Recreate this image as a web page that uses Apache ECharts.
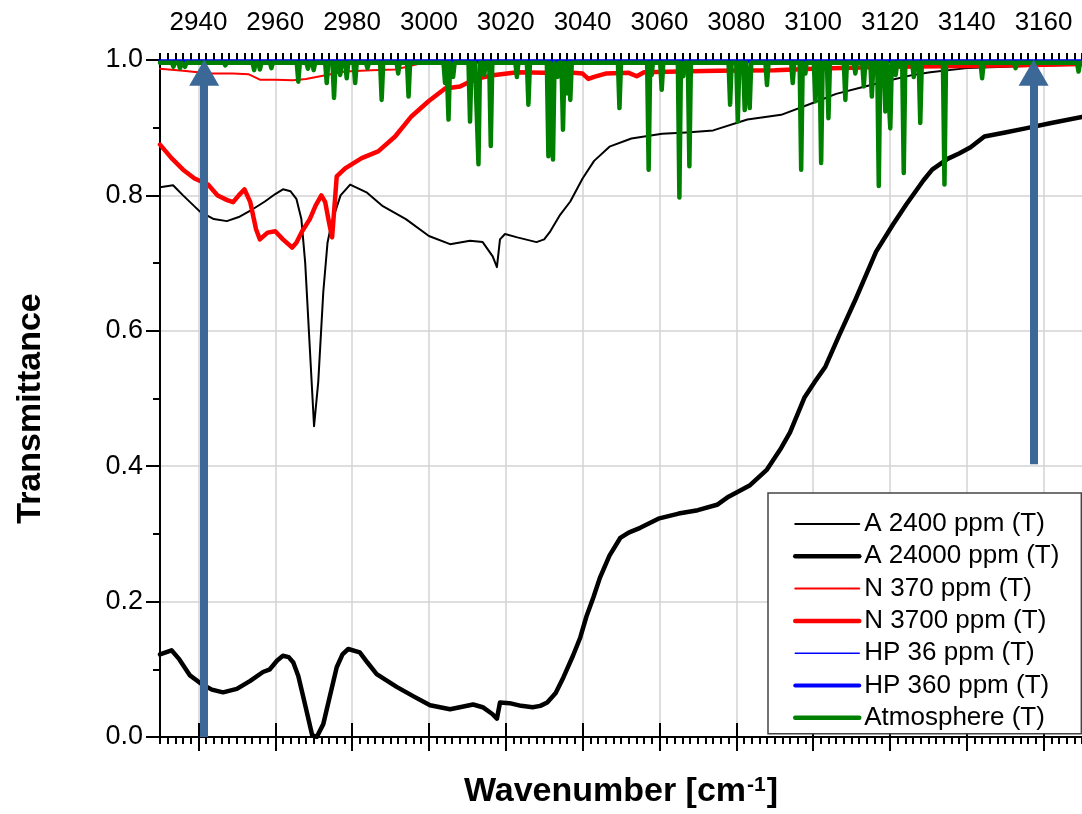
<!DOCTYPE html>
<html>
<head>
<meta charset="utf-8">
<title>Transmittance</title>
<script src="https://cdn.jsdelivr.net/npm/echarts@6.0.0/dist/echarts.min.js"></script>
<style>
  html, body { margin: 0; padding: 0; background: #fff; }
  #main { width: 1082px; height: 814px; }
</style>
</head>
<body>
<div id="main"></div>
<script>
// tick labels
var xTicks = [2940, 2960, 2980, 3000, 3020, 3040, 3060, 3080, 3100, 3120, 3140, 3160];
var yTicks = [0, 0.2, 0.4, 0.6, 0.8, 1.0];
var seriesNames = ['A 2400 ppm (T)', 'A 24000 ppm (T)', 'N 370 ppm (T)', 'N 3700 ppm (T)',
  'HP 36 ppm (T)', 'HP 360 ppm (T)', 'Atmosphere (T)'];

// [wavenumber, transmittance]
var a2400 = [
  [2930, 0.812], [2933.4, 0.815], [2936, 0.80], [2940.4, 0.776], [2944, 0.765], [2947.4, 0.762],
  [2950.5, 0.768], [2953.4, 0.777], [2957.3, 0.791], [2960, 0.802], [2962, 0.809], [2964, 0.806],
  [2965.5, 0.795], [2966.8, 0.765], [2967.8, 0.70], [2969, 0.574], [2970.1, 0.459], [2971.2, 0.525],
  [2972.5, 0.657], [2973.6, 0.73], [2974.7, 0.76], [2977, 0.80], [2979.5, 0.816], [2983.9, 0.804],
  [2988, 0.784], [2994, 0.765], [3000, 0.74], [3005.5, 0.728], [3010.7, 0.733], [3014, 0.731],
  [3016.6, 0.71], [3017.7, 0.694], [3018.5, 0.735], [3019.8, 0.743], [3023, 0.738], [3028, 0.731],
  [3030, 0.735], [3031.6, 0.747], [3034, 0.77], [3036.8, 0.791], [3040, 0.825], [3043, 0.851],
  [3047, 0.872], [3052.7, 0.884], [3060.7, 0.891], [3067, 0.893], [3074, 0.896], [3082.9, 0.912],
  [3091.7, 0.919], [3100.6, 0.938], [3106, 0.95], [3113, 0.96], [3120, 0.97], [3126, 0.978],
  [3130.5, 0.982], [3140, 0.988], [3150, 0.99], [3160, 0.992], [3170, 0.993]
];
var a24000 = [
  [2930, 0.122], [2933, 0.128], [2935, 0.115], [2937.8, 0.091], [2940.9, 0.078], [2943.5, 0.07],
  [2946.4, 0.066], [2950, 0.071], [2953.5, 0.083], [2956.8, 0.096], [2958.6, 0.10], [2960.5, 0.113],
  [2962, 0.12], [2963.5, 0.118], [2964.7, 0.11], [2966, 0.09], [2967.3, 0.059], [2968.5, 0.03],
  [2969.6, 0.003], [2970.8, 0.0], [2972.5, 0.019], [2974, 0.055], [2976, 0.103], [2977.5, 0.122],
  [2979, 0.13], [2982, 0.125], [2984, 0.11], [2986.4, 0.093], [2991.6, 0.074], [2996, 0.06],
  [3000.3, 0.047], [3005.5, 0.041], [3009, 0.045], [3011.5, 0.048], [3014, 0.044], [3016.5, 0.034],
  [3017.7, 0.027], [3018.5, 0.051], [3021, 0.05], [3024, 0.046], [3027, 0.044], [3029, 0.046],
  [3030.8, 0.051], [3033, 0.065], [3035, 0.088], [3037.5, 0.12], [3039.4, 0.147], [3041, 0.178],
  [3042.8, 0.206], [3044.5, 0.235], [3047, 0.268], [3049.8, 0.294], [3052, 0.302], [3055, 0.309],
  [3060, 0.323], [3065, 0.33], [3070, 0.335], [3075, 0.343], [3078, 0.355], [3083.6, 0.372],
  [3088, 0.395], [3091.7, 0.427], [3094, 0.45], [3097.8, 0.502], [3100.5, 0.525], [3103.2, 0.547],
  [3106.7, 0.592], [3111.1, 0.647], [3116.4, 0.717], [3120.8, 0.757], [3124.3, 0.787], [3128.7, 0.822],
  [3131, 0.838], [3135, 0.854], [3138, 0.862], [3141, 0.871], [3144.6, 0.887], [3150, 0.893],
  [3155.3, 0.899], [3162, 0.907], [3170, 0.916]
];
var n370 = [
  [2930, 0.987], [2936, 0.984], [2943, 0.98], [2949, 0.98], [2953, 0.979], [2956, 0.971], [2960, 0.971],
  [2964.6, 0.97], [2968, 0.972], [2973.4, 0.978], [2978.2, 0.983], [2985, 0.985], [2991.2, 0.986],
  [2998, 0.995], [3010, 0.996], [3040, 0.997], [3100, 0.997], [3170, 0.998]
];
var n3700 = [
  [2930, 0.875], [2933, 0.855], [2936, 0.838], [2939, 0.825], [2942.5, 0.816], [2945, 0.80],
  [2947.5, 0.793], [2949, 0.79], [2950.5, 0.80], [2952, 0.809], [2953.5, 0.79], [2955, 0.75],
  [2956, 0.735], [2958, 0.745], [2960, 0.747], [2962, 0.735], [2964.4, 0.723], [2965.5, 0.73],
  [2967, 0.747], [2969, 0.765], [2970.5, 0.785], [2972, 0.80], [2973, 0.79], [2974, 0.76],
  [2974.8, 0.738], [2975.5, 0.79], [2976, 0.828], [2978.2, 0.84], [2982.5, 0.855], [2986.8, 0.865],
  [2991.2, 0.887], [2995.5, 0.917], [2999.9, 0.939], [3004.2, 0.958], [3008.1, 0.961], [3012, 0.972],
  [3017.2, 0.978], [3023, 0.982], [3030, 0.981], [3036, 0.982], [3040, 0.98], [3041.5, 0.972],
  [3043, 0.975], [3046, 0.98], [3052, 0.981], [3054.1, 0.976], [3056, 0.982], [3065, 0.983],
  [3075, 0.984], [3090, 0.985], [3100, 0.987], [3120, 0.99], [3140, 0.991], [3160, 0.993], [3170, 0.994]
];
var hp36 = [[2930, 0.999], [3050, 0.999], [3170, 0.999]];
var hp360 = [[2930, 0.998], [3050, 0.998], [3170, 0.998]];
var atmosphere = [
  [2930, 0.996],
  [2933.1, 0.996], [2933.5, 0.990], [2933.9, 0.996], [2934.8, 0.996], [2935.2, 0.988], [2935.6, 0.996],
  [2936.1, 0.996], [2936.5, 0.990], [2936.9, 0.996], [2946.6, 0.996], [2947, 0.992], [2947.4, 0.996],
  [2954.1, 0.996], [2954.5, 0.985], [2954.9, 0.996], [2955.6, 0.996], [2956, 0.986], [2956.4, 0.996],
  [2958.6, 0.996], [2959, 0.988], [2959.4, 0.996], [2965.6, 0.996], [2966, 0.968], [2966.4, 0.996],
  [2968.1, 0.996], [2968.5, 0.987], [2968.9, 0.996], [2969.6, 0.996], [2970, 0.985], [2970.4, 0.996],
  [2973.0, 0.996], [2973.4, 0.966], [2973.8, 0.996], [2974.9, 0.996], [2975.3, 0.944], [2975.7, 0.996],
  [2976.5, 0.996], [2976.9, 0.978], [2977.3, 0.996], [2978.2, 0.996], [2978.6, 0.973], [2979.0, 0.996],
  [2980.4, 0.996], [2980.8, 0.966], [2981.2, 0.996], [2983.6, 0.996], [2984, 0.988], [2984.4, 0.996],
  [2987.3, 0.996], [2987.7, 0.941], [2988.1, 0.996], [2991.6, 0.996], [2992, 0.980], [2992.4, 0.996],
  [2994.3, 0.996], [2994.7, 0.946], [2995.1, 0.996], [3003.8, 0.996], [3004.2, 0.966], [3004.6, 0.996],
  [3004.7, 0.996], [3005.1, 0.912], [3005.5, 0.996], [3005.9, 0.996], [3006.3, 0.975], [3006.7, 0.996],
  [3010.3, 0.996], [3010.7, 0.909], [3011.1, 0.996], [3011.2, 0.996], [3011.6, 0.970], [3012.0, 0.996],
  [3012.5, 0.996], [3012.9, 0.846], [3013.3, 0.996], [3014.0, 0.996], [3014.4, 0.978], [3014.8, 0.996],
  [3015.7, 0.996], [3016.1, 0.873], [3016.5, 0.996], [3022.5, 0.996], [3022.9, 0.975], [3023.3, 0.996],
  [3025.5, 0.996], [3025.9, 0.934], [3026.3, 0.996], [3030.7, 0.996], [3031.1, 0.858], [3031.5, 0.996],
  [3031.9, 0.996], [3032.3, 0.853], [3032.7, 0.996], [3033.1, 0.996], [3033.5, 0.975], [3033.9, 0.996],
  [3034.5, 0.996], [3034.9, 0.897], [3035.3, 0.996], [3035.5, 0.996], [3035.9, 0.951], [3036.3, 0.996],
  [3036.4, 0.996], [3036.8, 0.941], [3037.2, 0.996], [3049.2, 0.996], [3049.6, 0.929], [3050.0, 0.996],
  [3056.8, 0.996], [3057.2, 0.838], [3057.6, 0.996], [3057.7, 0.996], [3058, 0.978], [3058.3, 0.996],
  [3060.2, 0.996], [3060.6, 0.956], [3061.0, 0.996], [3064.8, 0.996], [3065.2, 0.797], [3065.6, 0.996],
  [3065.8, 0.996], [3066.2, 0.976], [3066.6, 0.996], [3067.4, 0.996], [3067.8, 0.843], [3068.2, 0.996],
  [3078.0, 0.996], [3078.4, 0.934], [3078.8, 0.996], [3080.0, 0.996], [3080.4, 0.909], [3080.8, 0.996],
  [3081.8, 0.996], [3082.2, 0.926], [3082.6, 0.996], [3083.1, 0.996], [3083.5, 0.929], [3083.9, 0.996],
  [3087.6, 0.996], [3088, 0.963], [3088.4, 0.996], [3094.3, 0.996], [3094.7, 0.966], [3095.1, 0.996],
  [3096.5, 0.996], [3096.9, 0.838], [3097.3, 0.996], [3097.7, 0.996], [3098, 0.980], [3098.3, 0.996],
  [3100.2, 0.996], [3100.6, 0.939], [3101.0, 0.996], [3101.7, 0.996], [3102.1, 0.848], [3102.5, 0.996],
  [3103.6, 0.996], [3104, 0.914], [3104.4, 0.996], [3108.0, 0.996], [3108.4, 0.941], [3108.8, 0.996],
  [3110.6, 0.996], [3111, 0.980], [3111.4, 0.996], [3112.8, 0.996], [3113.2, 0.961], [3113.6, 0.996],
  [3114.9, 0.996], [3115.3, 0.946], [3115.7, 0.996], [3116.7, 0.996], [3117.1, 0.814], [3117.5, 0.996],
  [3118.4, 0.996], [3118.8, 0.924], [3119.2, 0.996], [3119.7, 0.996], [3120.1, 0.899], [3120.5, 0.996],
  [3121.1, 0.996], [3121.5, 0.978], [3121.9, 0.996], [3123.2, 0.996], [3123.6, 0.833], [3124.0, 0.996],
  [3125.8, 0.996], [3126.2, 0.975], [3126.6, 0.996], [3127.5, 0.996], [3127.9, 0.907], [3128.3, 0.996],
  [3133.8, 0.996], [3134.2, 0.816], [3134.6, 0.996], [3143.6, 0.996], [3144, 0.973], [3144.4, 0.996],
  [3152.3, 0.996], [3152.7, 0.988], [3153.1, 0.996], [3168.7, 0.996], [3169.1, 0.983], [3169.5, 0.996],
  [3170, 0.996]
];
// blue arrows: [wavenumber, from, to]
var arrows = [[2941.5, 0, 0.981], [3157.4, 0.403, 0.981]];

var FONT = 'Liberation Sans';
var chart = echarts.init(document.getElementById('main'));

function lineSeries(name, data, color, width) {
  return {
    name: name,
    type: 'line',
    data: data,
    symbol: 'none',
    showSymbol: false,
    animation: false,
    xAxisIndex: 0,
    yAxisIndex: 0,
    lineStyle: { color: color, width: width, join: 'round', cap: 'round' },
    itemStyle: { color: color }
  };
}

var series = [
  lineSeries(seriesNames[0], a2400, '#000000', 2),
  lineSeries(seriesNames[1], a24000, '#000000', 4.5),
  lineSeries(seriesNames[2], n370, '#ff0000', 2),
  lineSeries(seriesNames[3], n3700, '#ff0000', 4.5),
  lineSeries(seriesNames[4], hp36, '#0000ff', 1.5),
  lineSeries(seriesNames[5], hp360, '#0000ff', 4),
  lineSeries(seriesNames[6], atmosphere, '#008000', 4.5)
];

// arrows on top of everything
series[6].markLine = {
  silent: true,
  animation: false,
  symbol: ['none', 'triangle'],
  symbolSize: [30, 26],
  label: { show: false },
  lineStyle: { color: '#3c6898', width: 8, type: 'solid' },
  data: arrows.map(function (a) {
    return [{ coord: [a[0], a[1]] }, { coord: [a[0], a[2]] }];
  })
};

var tickStyle = { color: '#000', width: 2 };

var option = {
  backgroundColor: '#fff',
  animation: false,
  grid: { left: 160, right: 0, top: 60, bottom: 74 },
  legend: {
    data: seriesNames,
    orient: 'vertical',
    left: 768,
    top: 493,
    itemWidth: 64,
    itemHeight: 14,
    itemGap: 6.3,
    padding: [18, 22, 3, 25],
    backgroundColor: '#fff',
    borderColor: '#444',
    borderWidth: 1.5,
    borderRadius: 0,
    itemStyle: { opacity: 0 },
    lineStyle: { width: 'inherit', cap: 'round' },
    textStyle: { fontFamily: FONT, fontSize: 26, lineHeight: 25, color: '#000' }
  },
  xAxis: [
    {
      type: 'value', position: 'top', min: 2930, max: 3170,
      axisLine: { show: true, lineStyle: tickStyle },
      axisTick: { show: true, customValues: xTicks, length: 14, lineStyle: tickStyle },
      axisLabel: {
        customValues: xTicks, color: '#000', fontFamily: FONT, fontSize: 26, margin: 24,
        formatter: function (v) { return String(v); }
      },
      splitLine: { show: true, lineStyle: { color: '#d3d3d3', width: 1.5 } }
    },
    {
      type: 'value', position: 'bottom', min: 2930, max: 3170,
      axisLine: { show: true, onZero: false, lineStyle: tickStyle },
      axisTick: { show: true, customValues: xTicks, length: 14, lineStyle: tickStyle },
      axisLabel: { show: false },
      splitLine: { show: false },
      name: '{a|Wavenumber [cm}{s|-1}{a|]}',
      nameLocation: 'middle',
      nameGap: 38,
      nameTextStyle: {
        rich: {
          a: { fontFamily: FONT, fontSize: 34, fontWeight: 'bold', color: '#000' },
          s: { fontFamily: FONT, fontSize: 21, fontWeight: 'bold', color: '#000', verticalAlign: 'top', padding: [0, 1, 12, 1] }
        }
      }
    },
    // minor ticks, every 2 cm-1
    {
      type: 'value', position: 'top', min: 2930, max: 3170, interval: 2,
      axisLine: { show: false },
      axisTick: { show: true, length: 7, lineStyle: tickStyle },
      axisLabel: { show: false },
      splitLine: { show: false }
    },
    {
      type: 'value', position: 'bottom', min: 2930, max: 3170, interval: 2,
      axisLine: { show: false, onZero: false },
      axisTick: { show: true, length: 7, lineStyle: tickStyle },
      axisLabel: { show: false },
      splitLine: { show: false }
    }
  ],
  yAxis: {
    type: 'value', min: yTicks[0], max: yTicks[yTicks.length - 1], interval: 0.2,
    name: 'Transmittance',
    nameLocation: 'middle',
    nameGap: 112,
    nameTextStyle: { fontFamily: FONT, fontSize: 34, fontWeight: 'bold', color: '#000', padding: [0, 20, 0, 0] },
    axisLine: { show: true, lineStyle: tickStyle },
    axisTick: { show: true, length: 14, lineStyle: tickStyle },
    minorTick: { show: true, splitNumber: 2, length: 7, lineStyle: tickStyle },
    axisLabel: {
      color: '#000', fontFamily: FONT, fontSize: 27, margin: 17,
      formatter: function (v) { return v.toFixed(1); }
    },
    splitLine: { show: true, lineStyle: { color: '#d3d3d3', width: 1.5 } }
  },
  series: series
};

chart.setOption(option);
</script>
</body>
</html>
